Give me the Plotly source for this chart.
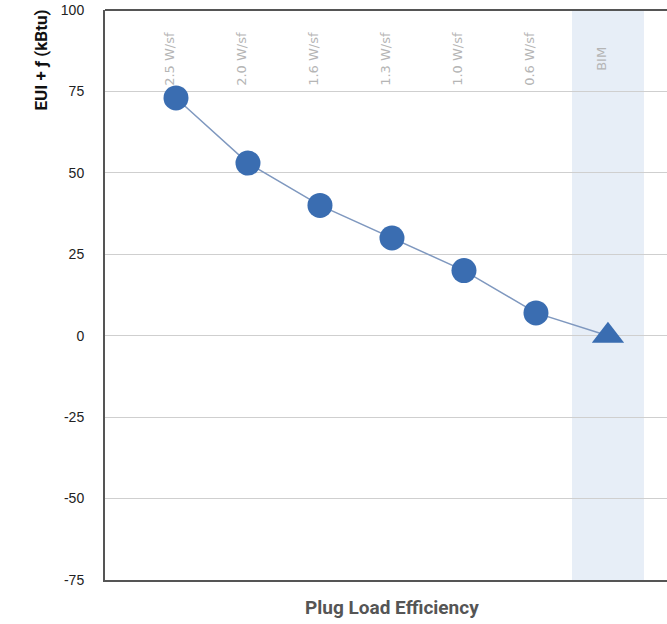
import plotly.graph_objects as go

# plug load steps and the resulting EUI offset
categories = ["2.5 W/sf", "2.0 W/sf", "1.6 W/sf", "1.3 W/sf", "1.0 W/sf", "0.6 W/sf", "BIM"]
eui_values = [73, 53, 40, 30, 20, 7, 0]
y_ticks = [-75, -50, -25, 0, 25, 50, 75, 100]

x_pos = list(range(len(categories)))
bim_idx = categories.index("BIM")

symbols = ["circle"] * (len(categories) - 1) + ["triangle-up"]
sizes = [25] * (len(categories) - 1) + [28]

fig = go.Figure()

# highlight band behind the BIM column
fig.add_shape(
    type="rect", xref="x", yref="paper",
    x0=bim_idx - 0.5, x1=bim_idx + 0.5, y0=0, y1=1,
    fillcolor="#e7eef7", line_width=0, layer="below",
)

fig.add_trace(go.Scatter(
    x=x_pos, y=eui_values,
    mode="lines+markers",
    line=dict(color="#7f98bf", width=1.5),
    marker=dict(symbol=symbols, size=sizes, color="#3a6db1", opacity=1,
                line=dict(color="#3a6db1", width=0)),
    hoverinfo="skip",
    showlegend=False,
))

# category labels drawn inside the plot, rotated
for i, label in zip(x_pos, categories):
    fig.add_annotation(
        x=i, y=85, xref="x", yref="y",
        text=label, textangle=-90, showarrow=False,
        font=dict(family="DejaVu Sans, sans-serif", size=13, color="#b5b5b5"),
        xshift=-6, yanchor="middle",
    )

fig.update_layout(
    width=667, height=624,
    margin=dict(l=105, r=0, t=10, b=44),
    paper_bgcolor="white", plot_bgcolor="white",
    font=dict(family="Liberation Sans, Arial, sans-serif", size=12, color="#333"),
    xaxis=dict(
        range=[-0.986, 6.82], showticklabels=False, showgrid=False, automargin=False,
        zeroline=False, showline=True, linecolor="#555", linewidth=2, mirror=False,
    ),
    yaxis=dict(
        range=[-75, 100], tickvals=y_ticks, ticktext=[str(v) for v in y_ticks],
        showgrid=True, gridcolor="#cfcfcf", automargin=False,
        gridwidth=1, zeroline=False, showline=True, linecolor="#555", linewidth=2,
        ticks="", ticklabelstandoff=16, ticklabeloverflow="allow",
        tickfont=dict(family="Liberation Sans, Arial, sans-serif", size=14, color="#222"),
    ),
)

# top frame line
fig.add_shape(type="line", xref="paper", yref="paper", x0=0, x1=1, y0=1, y1=1,
              line=dict(color="#555", width=2))

title_font = dict(family="Liberation Sans Narrow, Arial Narrow, Roboto, sans-serif",
                  size=19, color="#555")
fig.add_annotation(
    text="<b>Plug Load Efficiency</b>", xref="paper", yref="paper",
    x=(392 - 105) / (667 - 105), y=0, yshift=-27, showarrow=False,
    font=title_font, yanchor="middle",
)
fig.add_annotation(
    text="<b>EUI + ƒ (kBtu)</b>", xref="paper", yref="paper",
    x=0, xshift=-65, y=1, yshift=2, showarrow=False, textangle=-90,
    xanchor="center", yanchor="top",
    font=dict(family="Liberation Sans Narrow, Arial Narrow, Roboto, sans-serif",
              size=17, color="#111"),
)

# drop the browser's default 8px body margin so the figure sits at the page corner
fig.write_html(
    "out.html",
    config={"displayModeBar": False},
    post_script="document.body.style.margin = '0';",
)
